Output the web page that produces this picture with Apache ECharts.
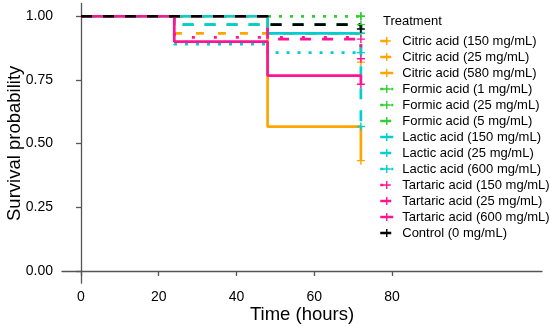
<!DOCTYPE html>
<html>
<head>
<meta charset="utf-8">
<script src="https://cdn.jsdelivr.net/npm/echarts@6/dist/echarts.min.js"></script>
<style>html,body{margin:0;padding:0;background:#fff}#c{width:550px;height:326px}</style>
</head>
<body>
<div id="c"></div>
<script>
// ---- data ----
const categories = [
  'Citric acid (150 mg/mL)', 'Citric acid (25 mg/mL)', 'Citric acid (580 mg/mL)',
  'Formic acid (1 mg/mL)', 'Formic acid (25 mg/mL)', 'Formic acid (5 mg/mL)',
  'Lactic acid (150 mg/mL)', 'Lactic acid (25 mg/mL)', 'Lactic acid (600 mg/mL)',
  'Tartaric acid (150 mg/mL)', 'Tartaric acid (25 mg/mL)', 'Tartaric acid (600 mg/mL)',
  'Control (0 mg/mL)'
];
const tCitric150 = [0, 24, 72];      const sCitric150 = [1, 0.933, 0.82];
const tCitric25 = [0, 48, 72];       const sCitric25 = [1, 0.933, 0.933];
const tCitric580 = [0, 48, 72];      const sCitric580 = [1, 0.567, 0.433];
const tFormic1 = [0, 72];            const sFormic1 = [1, 1];
const tFormic25 = [0, 72];           const sFormic25 = [1, 1];
const tFormic5 = [0, 24, 72];        const sFormic5 = [1, 0.967, 0.967];
const tLactic150 = [0, 48, 72];      const sLactic150 = [1, 0.933, 0.933];
const tLactic25 = [0, 24, 72];       const sLactic25 = [1, 0.967, 0.567];
const tLactic600 = [0, 24, 48, 72];  const sLactic600 = [1, 0.89, 0.857, 0.857];
const tTartaric150 = [0, 24, 72];    const sTartaric150 = [1, 0.917, 0.833];
const tTartaric25 = [0, 48, 72];     const sTartaric25 = [1, 0.91, 0.91];
const tTartaric600 = [0, 24, 48, 72];const sTartaric600 = [1, 0.9, 0.767, 0.733];
const tControl = [0, 48, 72];        const sControl = [1, 0.967, 0.95];
const xTicks = [0, 20, 40, 60, 80];
const yTicks = [0, 0.25, 0.5, 0.75, 1];

const times = [tCitric150, tCitric25, tCitric580, tFormic1, tFormic25, tFormic5,
  tLactic150, tLactic25, tLactic600, tTartaric150, tTartaric25, tTartaric600, tControl];
const survs = [sCitric150, sCitric25, sCitric580, sFormic1, sFormic25, sFormic5,
  sLactic150, sLactic25, sLactic600, sTartaric150, sTartaric25, sTartaric600, sControl];

// ---- styles ----
const ORANGE = '#FFA500', GREEN = '#32CD32', CYAN = '#00CED1', PINK = '#FF1493', BLACK = '#000000';
const colors = [ORANGE, ORANGE, ORANGE, GREEN, GREEN, GREEN, CYAN, CYAN, CYAN, PINK, PINK, PINK, BLACK];
const dashes = [[8, 14], [11, 11], 'solid', [3, 8], [3, 8], [11, 11], 'solid', [11, 11], [3, 8], [3, 19], [11, 11], 'solid', [11, 11]];
const plus = 'path://M3.3,0H4.7V3.3H8V4.7H4.7V8H3.3V4.7H0V3.3H3.3Z';
const FONT = 'Liberation Sans';

const series = categories.map((name, i) => ({
  name: name,
  type: 'line',
  step: 'end',
  symbol: plus,
  symbolSize: 8,
  showSymbol: true,
  color: colors[i],
  lineStyle: { color: colors[i], width: 2.7, type: dashes[i] },
  itemStyle: { color: colors[i] },
  emphasis: { disabled: true },
  data: times[i].map((t, j) => j === times[i].length - 1
    ? { value: [t, survs[i][j]] }
    : { value: [t, survs[i][j]], symbol: 'none' })
}));

const chart = echarts.init(document.getElementById('c'), null, { renderer: 'canvas' });
chart.setOption({
  animation: false,
  backgroundColor: '#fff',
  textStyle: { fontFamily: FONT },
  grid: { left: 62, right: 8, top: 3.5, bottom: 42.8, containLabel: false, outerBoundsMode: 'none' },
  title: {
    text: 'Treatment', left: 378, top: 10,
    textStyle: { fontFamily: FONT, fontSize: 13, fontWeight: 'normal', color: '#000' }
  },
  legend: {
    orient: 'vertical', left: 374, top: 29.5,
    itemWidth: 13, itemHeight: 10, itemGap: 3,
    data: categories,
    lineStyle: { width: 2.5 },
    textStyle: { fontFamily: FONT, fontSize: 13, color: '#000', padding: [0, 0, 0, 4] },
    selectedMode: false
  },
  xAxis: {
    type: 'value', min: -4.887, max: 118.59,
    name: 'Time (hours)', nameLocation: 'middle', nameGap: 22, nameMoveOverlap: false,
    nameTextStyle: { fontFamily: FONT, fontSize: 18.5, color: '#000' },
    axisLine: { show: true, lineStyle: { color: '#555', width: 1.3 } },
    axisTick: { show: true, length: 5, lineStyle: { color: '#555', width: 1.3 }, customValues: xTicks },
    axisLabel: { customValues: xTicks, margin: 7, fontFamily: FONT, fontSize: 14, color: '#000' },
    splitLine: { show: false }
  },
  yAxis: {
    type: 'value', min: -0.048, max: 1.05,
    name: 'Survival probability', nameLocation: 'middle', nameGap: 38, nameMoveOverlap: false,
    nameTextStyle: { fontFamily: FONT, fontSize: 18.5, color: '#000' },
    axisLine: { show: true, lineStyle: { color: '#555', width: 1.3 } },
    axisTick: { show: true, length: 5, lineStyle: { color: '#555', width: 1.3 }, customValues: yTicks },
    axisLabel: { customValues: yTicks, margin: 9, fontFamily: FONT, fontSize: 14, color: '#000',
      formatter: v => v.toFixed(2) },
    splitLine: { show: false }
  },
  series: series
});
</script>
</body>
</html>
